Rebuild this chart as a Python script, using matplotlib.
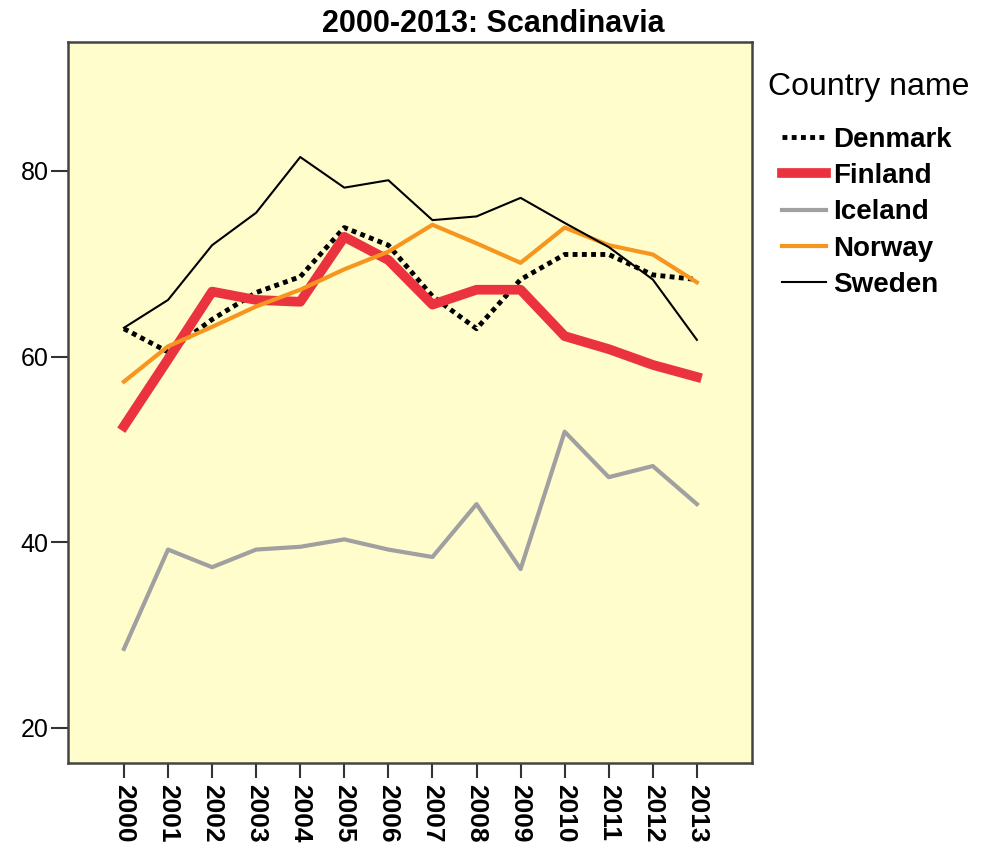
import matplotlib.pyplot as plt

plt.rcParams['font.family'] = ['Liberation Sans', 'DejaVu Sans']

years = list(range(2000, 2014))
denmark = [63.0, 60.5, 64.0, 66.9, 68.6, 73.9, 72.0, 66.5, 63.0, 68.3, 71.0, 71.0, 68.8, 68.3]
finland = [52.5, 59.7, 67.0, 66.1, 65.9, 72.9, 70.4, 65.6, 67.2, 67.2, 62.2, 60.8, 59.1, 57.8]
iceland = [28.5, 39.2, 37.3, 39.2, 39.5, 40.3, 39.2, 38.4, 44.1, 37.1, 51.9, 47.0, 48.2, 44.1]
norway = [57.3, 61.1, 63.2, 65.4, 67.2, 69.4, 71.3, 74.2, 72.2, 70.1, 73.9, 72.0, 71.0, 68.0]
sweden = [63.1, 66.1, 72.0, 75.5, 81.5, 78.2, 79.0, 74.7, 75.1, 77.1, 74.4, 71.8, 68.3, 61.8]

fig = plt.figure(figsize=(9.94, 8.46), dpi=100)
ax = fig.add_axes([0.0684, 0.0981, 0.6881, 0.8523])
ax.set_facecolor('#FFFDCC')

ax.plot(years, denmark, color='black', lw=3.5, ls=(0, (1, 0.9)), label='Denmark')
ax.plot(years, finland, color='#EB3340', lw=7, label='Finland')
ax.plot(years, iceland, color='#A0A0A0', lw=3, label='Iceland')
ax.plot(years, norway, color='#F7961E', lw=3, label='Norway')
ax.plot(years, sweden, color='black', lw=1.5, label='Sweden')

ax.set_xlim(1998.73, 2014.25)
ax.set_ylim(16.2, 93.9)
ax.set_yticks([20, 40, 60, 80])
ax.set_xticks(years)
ax.set_xticklabels([str(y) for y in years], rotation=270, fontweight='bold', fontsize=19)
ax.tick_params(axis='y', labelsize=18, direction='out', length=12, width=1.5, pad=2,
               colors='#333333', labelcolor='black')
ax.tick_params(axis='x', direction='out', length=11, width=1.5, pad=4,
               colors='#333333', labelcolor='black')
for s in ax.spines.values():
    s.set_color('#444444')
    s.set_linewidth(1.8)

fig.text(0.496, 0.972, '2000-2013: Scandinavia', fontsize=22, fontweight='bold',
         ha='center', va='center')

fig.text(0.7726, 0.8975, 'Country name', fontsize=23, ha='left', va='center')
fig.legend(*ax.get_legend_handles_labels(), loc='upper left',
           bbox_to_anchor=(0.7726, 0.8665), frameon=False, borderpad=0,
           prop={'weight': 'bold', 'size': 20},
           handlelength=1.6, handletextpad=0.25, labelspacing=0.37)

fig.savefig('out.png', dpi=100)
